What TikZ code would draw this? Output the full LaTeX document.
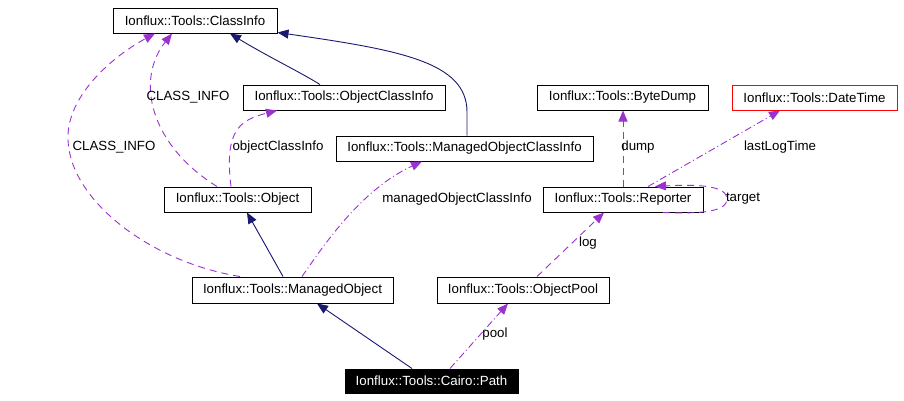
\documentclass[tikz,border=0pt]{standalone}
\usepackage{fontspec}
\setmainfont{Liberation Sans}
\usetikzlibrary{arrows.meta}
\definecolor{navyc}{HTML}{191970}
\definecolor{purp}{HTML}{9A32CD}
\begin{document}
\begin{tikzpicture}[x=1pt,y=-1pt,
  font=\fontsize{13.3}{15}\selectfont,
  cls/.style={draw=black, line width=1pt, minimum height=25pt, inner sep=0pt, anchor=center},
  inh/.style={navyc, line width=0.9pt, -{Triangle[length=11pt,width=9pt]}},
  use/.style={purp, line width=0.9pt, dash pattern=on 7pt off 5pt, -{Triangle[length=11pt,width=9pt]}},
  usedot/.style={purp, line width=0.9pt, dash pattern=on 7pt off 3pt on 1pt off 3pt, -{Triangle[length=11pt,width=9pt]}},
  lbl/.style={inner sep=0pt, anchor=center}]
\useasboundingbox (0,0) rectangle (904,400);

% classes
\node[cls, minimum width=164pt] (ci)   at (195,20.5)  {Ionflux::Tools::ClassInfo};
\node[cls, minimum width=202pt] (oci)  at (344,97.5)  {Ionflux::Tools::ObjectClassInfo};
\node[cls, minimum width=257pt] (moci) at (464.5,148.5) {Ionflux::Tools::ManagedObjectClassInfo};
\node[cls, minimum width=171pt] (bd)   at (622.5,97.5) {Ionflux::Tools::ByteDump};
\node[cls, draw=red, minimum width=165pt] (dt) at (814.5,97.5) {Ionflux::Tools::DateTime};
\node[cls, minimum width=147pt] (obj)  at (237.5,199.5) {Ionflux::Tools::Object};
\node[cls, minimum width=160pt] (rep)  at (623,199.5) {Ionflux::Tools::Reporter};
\node[cls, minimum width=201pt, minimum height=26pt] (mo) at (292.5,290) {Ionflux::Tools::ManagedObject};
\node[cls, minimum width=172pt, minimum height=26pt] (op) at (523,290) {Ionflux::Tools::ObjectPool};
\node[cls, fill=black, text=white, minimum width=173pt, minimum height=24pt] (path) at (431.5,381) {Ionflux::Tools::Cairo::Path};

% inheritance
\draw[inh] ([xshift=-24pt]oci.north) .. controls (300,72) and (265,55) .. ([xshift=35pt]ci.south);
\draw[inh] ([xshift=2.5pt]moci.north) -- (467,112) .. controls (467,62) and (400,50) .. ([yshift=1pt]ci.south east);
\draw[inh] ([xshift=-9.5pt]mo.north) -- ([xshift=9.5pt]obj.south);
\draw[inh] ([xshift=-19.5pt]path.north) -- ([xshift=24.5pt]mo.south);

% usage
\draw[use] ([xshift=-20.5pt]obj.north) .. controls (150,145) and (135,80) .. ([xshift=-23pt]ci.south);
\node[lbl] (l1) at (188,97) {CLASS\_INFO};

\draw[use] ([xshift=-52.5pt]mo.north) .. controls (150,262) and (70,200) .. (68,140)
   .. controls (66,95) and (115,55) .. ([xshift=-40pt]ci.south);
\node[lbl] (l2) at (114,147) {CLASS\_INFO};

\draw[use] ([xshift=-6.5pt]obj.north) .. controls (224,130) and (240,120) .. ([xshift=-67pt]oci.south);
\node[lbl] (l3) at (278,147) {objectClassInfo};

\draw[usedot] ([xshift=9.5pt]mo.north) .. controls (322,248) and (360,190) .. ([xshift=-42.5pt]moci.south);
\node[lbl] (l4) at (457,199) {managedObjectClassInfo};

\draw[use] (rep.north) -- ([xshift=0.5pt]bd.south);
\node[lbl] (l5) at (638,147) {dump};

\draw[usedot] ([xshift=25pt]rep.north) -- ([xshift=-34.5pt]dt.south);
\node[lbl] (l6) at (780,147) {lastLogTime};

\draw[use] ([xshift=40pt]rep.south) .. controls (700,214) and (727,212) .. (727,199)
   .. controls (727,186) and (700,184) .. ([xshift=32pt]rep.north);
\node[lbl] (l7) at (743,199) {target};

\draw[use] ([xshift=14pt]op.north) -- ([xshift=-19pt]rep.south);
\node[lbl] (l8) at (588,243) {log};

\draw[usedot] ([xshift=18.5pt]path.north) -- ([xshift=-15pt]op.south);
\node[lbl] (l9) at (495,334) {pool};
\end{tikzpicture}
\end{document}
